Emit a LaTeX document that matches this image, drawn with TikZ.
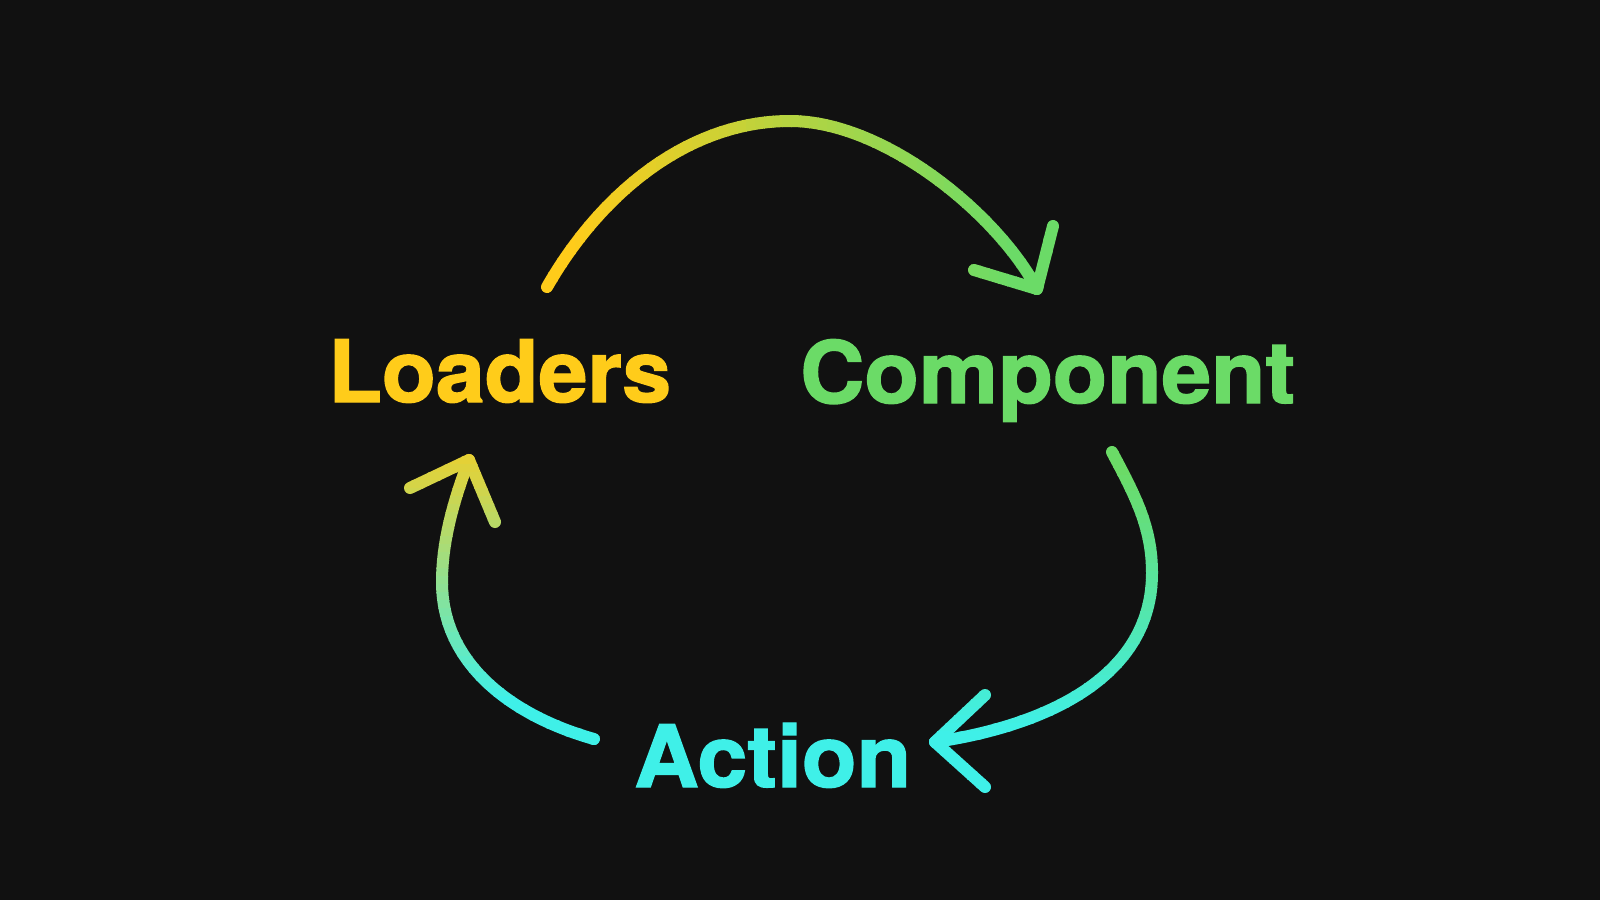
\documentclass[tikz,border=0pt]{standalone}
\usepackage{fontspec}
\usepackage{graphicx}
\newfontfamily\lblfont{TeX Gyre Heros}[BoldFeatures={FakeBold=1.6}]
\definecolor{bg}{HTML}{111111}
\definecolor{cyellow}{HTML}{FFCC1A}
\definecolor{cgreen}{HTML}{6BDB67}
\definecolor{ccyan}{HTML}{3FF0E8}
\newlength\lblw
\newcommand\fitlabel[2]{\settowidth\lblw{#2}\pgfmathsetmacro\lblsx{#1/\lblw}\scalebox{\lblsx}[1]{#2}}
\tikzset{
  lbl/.style={font=\lblfont\bfseries\fontsize{86}{92}\selectfont, inner sep=0pt, anchor=base west},
  arrowline/.style={line width=12pt, line cap=round, line join=round}
}
\begin{document}
\begin{tikzpicture}[x=1pt,y=-1pt]
\useasboundingbox (0,0) rectangle (1600,900);
\fill[bg] (0,0) rectangle (1600,900);

% labels
\node[lbl, text=cyellow] (loaders) at (328,402) {\fitlabel{343}{Loaders}};
\node[lbl, text=cgreen] (component) at (800,403) {\fitlabel{495}{Component}};
\node[lbl, text=ccyan] (action) at (634,787) {\fitlabel{277}{Action}};

% top arc: Loaders -> Component
\coordinate (t0) at (547,287);
\coordinate (t1) at (602,191);
\coordinate (t2) at (690,121);
\coordinate (t3) at (790,121);
\coordinate (t4) at (885,121);
\coordinate (t5) at (998,215);
\coordinate (t6) at (1037,289);
\coordinate (ta1) at (1053,226);
\coordinate (ta2) at (974,270);

% right curve: Component -> Action
\coordinate (r0) at (1112,452);
\coordinate (r1) at (1136,497);
\coordinate (r2) at (1152,528);
\coordinate (r3) at (1152,573);
\coordinate (r4) at (1152,675);
\coordinate (r5) at (1050,725);
\coordinate (r6) at (935,742);
\coordinate (ra1) at (985,695);
\coordinate (ra2) at (985,787);

% left curve: Action -> Loaders
\coordinate (l0) at (594,739);
\coordinate (l1) at (509,715);
\coordinate (l2) at (442,662);
\coordinate (l3) at (442,582);
\coordinate (l4) at (442,550);
\coordinate (l5) at (449,512);
\coordinate (l6) at (469,460);
\coordinate (la1) at (410,488);
\coordinate (la2) at (495,522);

% top arc, horizontal gradient yellow -> green
\foreach \i in {0,...,59}{
  \pgfmathsetmacro\xa{530+\i*9}
  \pgfmathsetmacro\xb{\xa+9.8}
  \pgfmathtruncatemacro\f{min(100,max(0,(\xa+4.5-570)/(1010-570)*100))}
  \begin{scope}
    \clip (\xa,0) rectangle (\xb,900);
    \draw[arrowline, draw=cgreen!\f!cyellow] (t0) .. controls (t1) and (t2) .. (t3) .. controls (t4) and (t5) .. (t6);
    \draw[arrowline, draw=cgreen!\f!cyellow] (ta1) -- (t6) -- (ta2);
  \end{scope}
}

% right curve, vertical gradient green -> cyan
\foreach \i in {0,...,45}{
  \pgfmathsetmacro\ya{435+\i*8}
  \pgfmathsetmacro\yb{\ya+8.8}
  \pgfmathtruncatemacro\f{min(100,max(0,(\ya+4-470)/(730-470)*100))}
  \begin{scope}
    \clip (0,\ya) rectangle (1600,\yb);
    \draw[arrowline, draw=ccyan!\f!cgreen] (r0) .. controls (r1) and (r2) .. (r3) .. controls (r4) and (r5) .. (r6);
    \draw[arrowline, draw=ccyan!\f!cgreen] (ra1) -- (r6) -- (ra2);
  \end{scope}
}

% left curve, vertical gradient cyan (bottom) -> yellow (top)
\foreach \i in {0,...,40}{
  \pgfmathsetmacro\ya{440+\i*8}
  \pgfmathsetmacro\yb{\ya+8.8}
  \pgfmathtruncatemacro\f{min(100,max(0,(\ya+4-420)/(700-420)*100))}
  \begin{scope}
    \clip (0,\ya) rectangle (1600,\yb);
    \draw[arrowline, draw=ccyan!\f!cyellow] (l0) .. controls (l1) and (l2) .. (l3) .. controls (l4) and (l5) .. (l6);
    \draw[arrowline, draw=ccyan!\f!cyellow] (la1) -- (l6) -- (la2);
  \end{scope}
}
\end{tikzpicture}
\end{document}
